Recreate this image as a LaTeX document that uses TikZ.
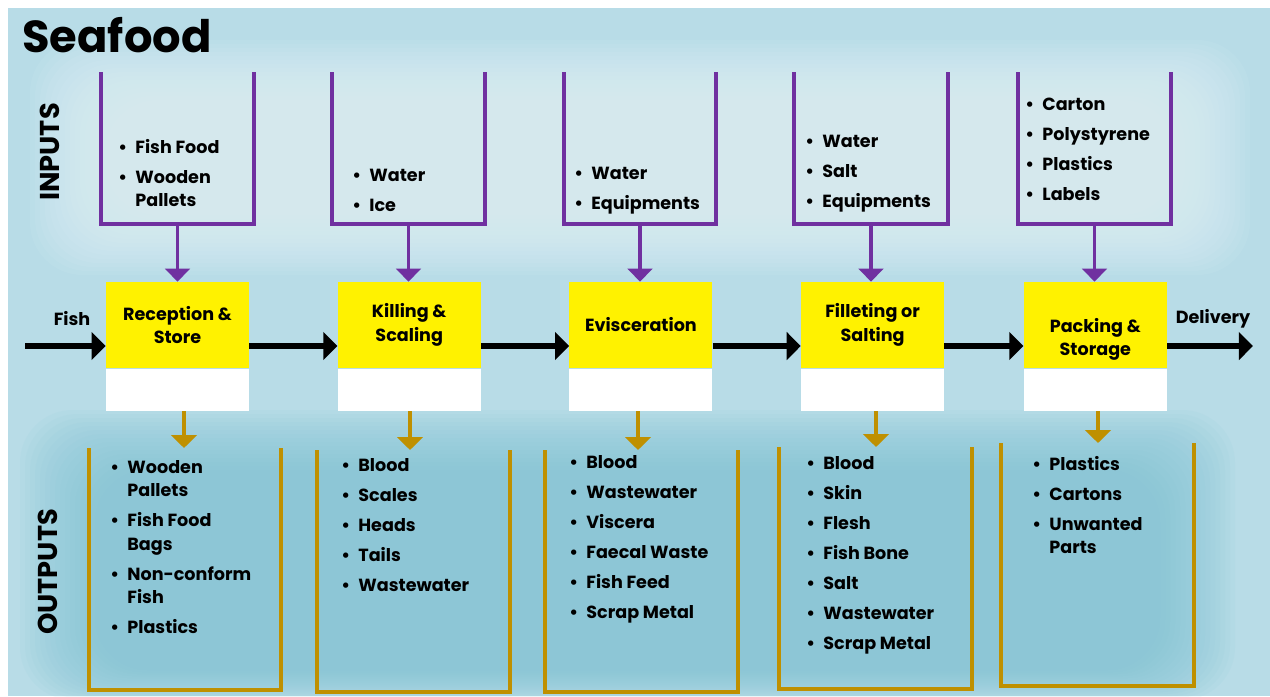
\documentclass[tikz,border=0pt]{standalone}
\usepackage{fontspec}
\setmainfont{Poppins}
\usetikzlibrary{positioning,arrows.meta}

\definecolor{seabg}{HTML}{B8DCE7}
\definecolor{seaglow}{HTML}{E4F3F8}
\definecolor{seadeep}{HTML}{84C5D6}
\definecolor{inpurple}{HTML}{7030A0}
\definecolor{outgold}{HTML}{BF9000}

\newcommand{\itm}{\makebox[9.7pt][l]{\textbullet}}
\newcommand{\gap}{\\[3.7pt]}

\begin{document}
\begin{tikzpicture}[
    x=0.2mm, y=-0.2mm,
    node distance=17.6mm,
    stage/.style={fill=yellow, minimum width=28.6mm, minimum height=17.2mm, inner sep=0pt, align=center, font=\bfseries\fontsize{10}{13.4}\selectfont},
    stagebase/.style={fill=white, minimum width=28.6mm, minimum height=8.4mm, inner sep=0pt},
    items/.style={anchor=base west, inner sep=0pt, align=left, font=\bfseries\fontsize{10}{13.4}\selectfont},
    side/.style={inner sep=0pt, rotate=90, font=\bfseries\fontsize{15.5}{18}\selectfont},
    flow/.style={line width=3.4pt, -{Triangle[length=8pt,width=15.5pt]}},
    inbox/.style={draw=inpurple, line width=2pt},
    infeed/.style={draw=inpurple, line width=2pt, -{Triangle[length=7.4pt,width=14pt]}},
    outbox/.style={draw=outgold, line width=2.2pt},
    outfeed/.style={draw=outgold, line width=2.2pt, -{Triangle[length=7.4pt,width=14.5pt]}}
  ]
    \useasboundingbox (0,0) rectangle (1270,696);
    % background and soft bands
    \fill[white] (0,0) rectangle (1270,696);
    \fill[seabg] (8,8) rectangle (1270,696);
    \foreach \i in {0,...,15}
      \fill[seaglow, opacity=0.09, rounded corners=30pt] (30+\i*5,40+\i*4) rectangle (1250-\i*5,275-\i*4);
    \foreach \i in {0,...,15}
      \fill[seadeep, opacity=0.08, rounded corners=30pt] (20+\i*5,410+\i*4) rectangle (1235-\i*5,700-\i*2);

    \node (title) [anchor=base west, inner sep=0pt, font=\bfseries\fontsize{25.5}{30}\selectfont] at (22,52) {Seafood};
    \node (inlbl) [side] at (50,152) {INPUTS};
    \node (outlbl) [side] at (48,572) {OUTPUTS};

    % process stages
    \node (rec) [stage] at (177.5,325) {Reception \&\\Store};
    \node (kil) [stage, right=of rec] {Killing \&\\Scaling};
    \node (evi) [stage, right=of kil] {Evisceration};
    \node (fil) [stage, right=of evi] {Filleting or\\Salting};
    \node (pak) [stage, right=15.8mm of fil] {\rule{0pt}{24.5pt}Packing \&\\Storage};
    \node (recw) [stagebase, below=0mm of rec] {};
    \node (kilw) [stagebase, below=0mm of kil] {};
    \node (eviw) [stagebase, below=0mm of evi] {};
    \node (filw) [stagebase, below=0mm of fil] {};
    \node (pakw) [stagebase, below=0mm of pak] {};

    % main flow
    \coordinate (fishin) at (25,346);
    \coordinate (out) at (1253,346);
    \node (fishlbl) [font=\bfseries\fontsize{10}{12}\selectfont] at (72,319) {Fish};
    \node (dellbl) [font=\bfseries\fontsize{10}{12}\selectfont] at (1213,319) {Delivery};
    \draw[flow] (fishin) -- (rec.west |- fishin);
    \draw[flow] (rec.east |- fishin) -- (kil.west |- fishin);
    \draw[flow] (kil.east |- fishin) -- (evi.west |- fishin);
    \draw[flow] (evi.east |- fishin) -- (fil.west |- fishin);
    \draw[flow] (fil.east |- fishin) -- (pak.west |- fishin);
    \draw[flow] (pak.east |- fishin) -- (out);

    % inputs
    \draw[inbox] (101,72) -- (101,224) -- (254,224) -- (254,72);
    \draw[inbox] (332,72) -- (332,224) -- (485,224) -- (485,72);
    \draw[inbox] (564,72) -- (564,224) -- (716,224) -- (716,72);
    \draw[inbox] (794,72) -- (794,224) -- (948,224) -- (948,72);
    \draw[inbox] (1018,72) -- (1018,224) -- (1171,224) -- (1171,72);
    \coordinate (in1) at (177.5,224);
    \coordinate (in2) at (408.5,224);
    \coordinate (in3) at (640,224);
    \coordinate (in4) at (871,224);
    \coordinate (in5) at (1094.5,224);
    \draw[infeed] (in1) -- (in1 |- rec.north);
    \draw[infeed] (in2) -- (in2 |- kil.north);
    \draw[infeed] (in3) -- (in3 |- evi.north);
    \draw[infeed] (in4) -- (in4 |- fil.north);
    \draw[infeed] (in5) -- (in5 |- pak.north);

    \node (in1list) [items] at (118,153) {\begin{tabular}[t]{@{}l@{}}\itm Fish Food\gap\itm Wooden\\\hspace{9.7pt}Pallets\end{tabular}};
    \node (in2list) [items] at (352,181) {\begin{tabular}[t]{@{}l@{}}\itm Water\gap\itm Ice\end{tabular}};
    \node (in3list) [items] at (574,179) {\begin{tabular}[t]{@{}l@{}}\itm Water\gap\itm Equipments\end{tabular}};
    \node (in4list) [items] at (805,147) {\begin{tabular}[t]{@{}l@{}}\itm Water\gap\itm Salt\gap\itm Equipments\end{tabular}};
    \node (in5list) [items] at (1025,110) {\begin{tabular}[t]{@{}l@{}}\itm Carton\gap\itm Polystyrene\gap\itm Plastics\gap\itm Labels\end{tabular}};

    % outputs
    \draw[outbox] (89,448) -- (89,690) -- (281,690) -- (281,448);
    \draw[outbox] (317,450) -- (317,692) -- (510,692) -- (510,450);
    \draw[outbox] (545,450) -- (545,692) -- (738,692) -- (738,450);
    \draw[outbox] (779,447) -- (779,689) -- (972,689) -- (972,447);
    \draw[outbox] (1001,443) -- (1001,686) -- (1194,686) -- (1194,443);
    \coordinate (o1) at (184,448);
    \coordinate (o2) at (410,450);
    \coordinate (o3) at (638,450);
    \coordinate (o4) at (876,447);
    \coordinate (o5) at (1098,443);
    \draw[outfeed] (o1 |- recw.south) -- (o1);
    \draw[outfeed] (o2 |- kilw.south) -- (o2);
    \draw[outfeed] (o3 |- eviw.south) -- (o3);
    \draw[outfeed] (o4 |- filw.south) -- (o4);
    \draw[outfeed] (o5 |- pakw.south) -- (o5);

    \node (out1list) [items] at (110,473) {\begin{tabular}[t]{@{}l@{}}\itm Wooden\\\hspace{9.7pt}Pallets\gap\itm Fish Food\\\hspace{9.7pt}Bags\gap\itm Non-conform\\\hspace{9.7pt}Fish\gap\itm Plastics\end{tabular}};
    \node (out2list) [items] at (341,471) {\begin{tabular}[t]{@{}l@{}}\itm Blood\gap\itm Scales\gap\itm Heads\gap\itm Tails\gap\itm Wastewater\end{tabular}};
    \node (out3list) [items] at (569,468) {\begin{tabular}[t]{@{}l@{}}\itm Blood\gap\itm Wastewater\gap\itm Viscera\gap\itm Faecal Waste\gap\itm Fish Feed\gap\itm Scrap Metal\end{tabular}};
    \node (out4list) [items] at (806,469) {\begin{tabular}[t]{@{}l@{}}\itm Blood\gap\itm Skin\gap\itm Flesh\gap\itm Fish Bone\gap\itm Salt\gap\itm Wastewater\gap\itm Scrap Metal\end{tabular}};
    \node (out5list) [items] at (1032,470) {\begin{tabular}[t]{@{}l@{}}\itm Plastics\gap\itm Cartons\gap\itm Unwanted\\\hspace{9.7pt}Parts\end{tabular}};
\end{tikzpicture}
\end{document}
